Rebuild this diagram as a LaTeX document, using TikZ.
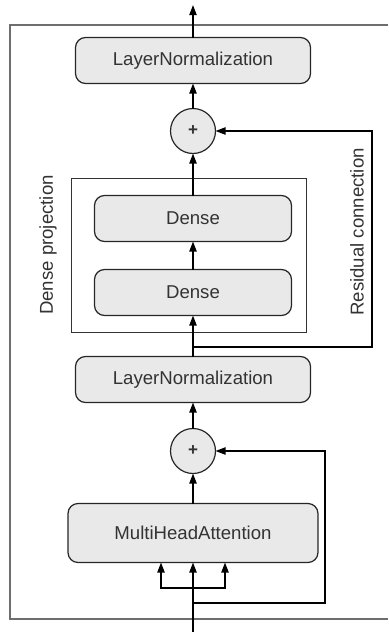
\documentclass[tikz,border=0pt]{standalone}
\usepackage{fontspec}
\setmainfont{Liberation Sans}
\usetikzlibrary{arrows.meta,positioning,calc}
\definecolor{GrisCapa}{RGB}{232,233,232}
\definecolor{GrisMarco}{RGB}{110,110,110}
\definecolor{GrisTexto}{RGB}{51,51,51}
\tikzset{
  capabox/.style={draw=black!85, line width=0.6pt, rounded corners=5pt, fill=GrisCapa,
    text=GrisTexto, align=center, minimum width=#1, minimum height=23pt,
    font=\fontsize{9.3}{11}\selectfont, inner sep=0pt, outer sep=0pt},
  capabox/.default=117.5pt,
  sumanodo/.style={circle, draw=black!85, line width=0.6pt, fill=GrisCapa,
    text=GrisTexto, minimum size=22.5pt, inner sep=0pt, outer sep=0pt,
    font=\fontsize{8.5}{9}\selectfont\bfseries},
  flowarr/.style={-{Triangle[length=5pt, width=3.6pt]}, line width=0.75pt, black},
  marcobox/.style={draw=GrisMarco, line width=0.8pt},
  grupobox/.style={draw=black!80, line width=0.6pt},
  etiqueta/.style={rotate=90, text=GrisTexto, font=\fontsize{9.3}{11}\selectfont},
}
\begin{document}
\begin{tikzpicture}[x=0.5pt, y=-0.5pt]
    \useasboundingbox (0,0) rectangle (388,632);
    % marco del bloque
    \draw[marcobox] (388,25) -- (10,25) -- (10,619) -- (388,619);

    \node[capabox=125pt, minimum height=29.5pt] (mha) at (193,533) {MultiHeadAttention};
    \node[sumanodo, above=15pt of mha] (suma2) {+};
    \node[capabox, above=13pt of suma2] (norm2) {LayerNormalization};
    \node[capabox=98.5pt, above=20.5pt of norm2] (dense2) {Dense};
    \node[capabox=98.5pt, above=14pt of dense2] (dense1) {Dense};
    \node[sumanodo, above=21pt of dense1] (suma1) {+};
    \node[capabox, above=12.5pt of suma1] (norm1) {LayerNormalization};

    \draw[grupobox] ($(dense1.north west)+(-23,-17)$) rectangle ($(dense2.south east)+(15,17)$);
    \node[etiqueta] (lblproj) at (48,245) {Dense projection};
    \node[etiqueta] (lblres) at (357,232) {Residual connection};

    \coordinate (entrada) at (193,632);
    \coordinate (salida) at (193,5);
    \coordinate (rama) at (193,588);
    \coordinate (res2) at (193,603);
    \coordinate (res1) at (193,347);

    \draw[flowarr] (entrada) -- (mha.south);
    \draw[flowarr] (rama) -| ($(mha.south)+(-32,0)$);
    \draw[flowarr] (rama) -| ($(mha.south)+(32,0)$);
    \draw[flowarr] (mha) -- (suma2);
    \draw[flowarr] (res2) -- ++(132,0) |- (suma2.east);
    \draw[flowarr] (suma2) -- (norm2);
    \draw[flowarr] (norm2) -- (dense2);
    \draw[flowarr] (dense2) -- (dense1);
    \draw[flowarr] (dense1) -- (suma1);
    \draw[flowarr] (res1) -- ++(179,0) |- (suma1.east);
    \draw[flowarr] (suma1) -- (norm1);
    \draw[flowarr] (norm1) -- (salida);
  \end{tikzpicture}
\end{document}
